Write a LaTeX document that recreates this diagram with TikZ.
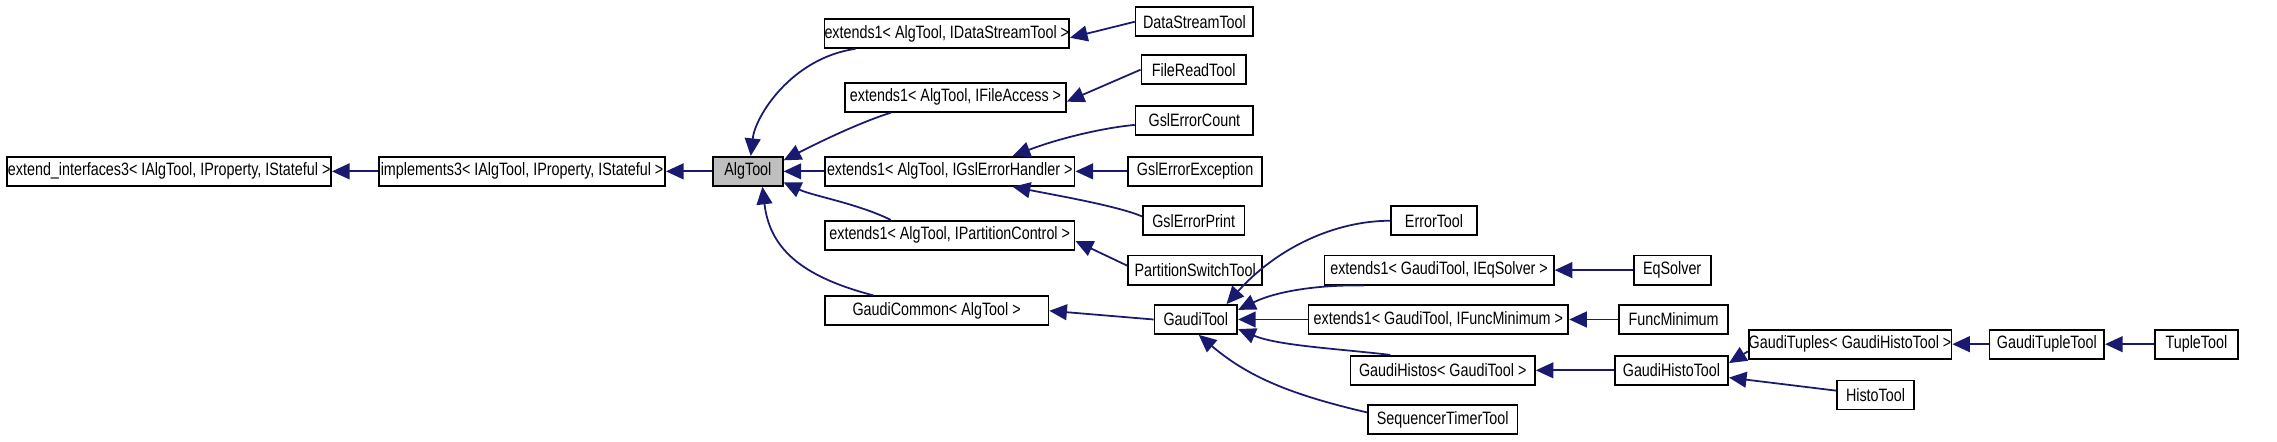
\documentclass[tikz,border=0pt]{standalone}
\usepackage{fontspec}
\setmainfont{Liberation Sans}[FakeStretch=0.8]
\usetikzlibrary{arrows.meta,calc}
\definecolor{navy}{HTML}{191970}
\begin{document}
\begin{tikzpicture}[x=0.01452cm,y=-0.01452cm,
  box/.style={draw,line width=0.5pt,inner sep=0pt,minimum height=20*0.01452cm,font=\fontsize{5.1pt}{6pt}\selectfont,text=black},
  arr/.style={{Triangle[length=5pt,width=4.5pt]}-,draw=navy,line width=0.5pt}]
\useasboundingbox (0,0) rectangle (1568,304);
\newcommand\bx[5]{\node[box,minimum width={(#3-#2)*0.01452cm}] (#1) at ({(#2+#3)/2},{#4+10}) {#5};}
\bx{ei}{5}{228}{108}{extend\_interfaces3< IAlgTool, IProperty, IStateful >}
\bx{im}{261}{458}{108}{implements3< IAlgTool, IProperty, IStateful >}
\node[box,fill=black!25,minimum width={48*0.01452cm}] (alg) at (515,118) {AlgTool};
\bx{eds}{568}{736}{13}{extends1< AlgTool, IDataStreamTool >}
\bx{dst}{782}{863}{5}{DataStreamTool}
\bx{efa}{582}{734}{57}{extends1< AlgTool, IFileAccess >}
\bx{frt}{786}{858}{38}{FileReadTool}
\bx{egs}{568}{740}{108}{extends1< AlgTool, IGslErrorHandler >}
\bx{gec}{782}{863}{73}{GslErrorCount}
\bx{gee}{777}{869}{108}{GslErrorException}
\bx{gep}{787}{857}{142}{GslErrorPrint}
\bx{epc}{568}{740}{152}{extends1< AlgTool, IPartitionControl >}
\bx{pst}{777}{869}{176}{PartitionSwitchTool}
\bx{gc}{568}{722}{204}{GaudiCommon< AlgTool >}
\bx{gt}{795}{852}{210}{GaudiTool}
\bx{et}{958}{1017}{142}{ErrorTool}
\bx{eeq}{912}{1070}{176}{extends1< GaudiTool, IEqSolver >}
\bx{eqs}{1125}{1178}{176}{EqSolver}
\bx{efm}{901}{1080}{210}{extends1< GaudiTool, IFuncMinimum >}
\bx{fm}{1115}{1190}{210}{FuncMinimum}
\bx{gh}{930}{1057}{245}{GaudiHistos< GaudiTool >}
\bx{ght}{1112}{1190}{245}{GaudiHistoTool}
\bx{gtu}{1218}{1330}{227}{GaudiTuples< GaudiHistoTool >}
\bx{gtt}{1370}{1449}{227}{GaudiTupleTool}
\bx{tt}{1484}{1541}{227}{TupleTool}
\bx{ht}{1265}{1318}{262}{HistoTool}
\bx{stt}{942}{1045}{279}{SequencerTimerTool}
% edges
\draw[arr] (ei.east) -- (im.west);
\draw[arr] (im.east) -- (alg.west);
\draw[arr] ($(alg.north)+(2,0)$) .. controls (520,80) and (545,40) .. ($(eds.south west)+(22,0)$);
\draw[arr] ($(alg.north east)+(0,3)$) .. controls (560,100) and (590,85) .. ($(efa.south west)+(32,0)$);
\draw[arr] (alg.east) -- (egs.west);
\draw[arr] ($(alg.south east)+(0,-3)$) .. controls (560,135) and (590,140) .. ($(epc.north west)+(46,0)$);
\draw[arr] ($(alg.south)+(10,0)$) .. controls (530,170) and (550,190) .. ($(gc.north west)+(34,0)$);
\draw[arr] ($(eds.east)+(0,3)$) -- (dst.west);
\draw[arr] ($(efa.east)+(0,3)$) -- (frt.west);
\draw[arr] ($(egs.north west)+(130,0)$) .. controls (730,95) and (760,88) .. ($(gec.west)+(0,3)$);
\draw[arr] (egs.east) -- (gee.west);
\draw[arr] ($(egs.south west)+(130,0)$) .. controls (730,135) and (770,142) .. ($(gep.west)+(0,-3)$);
\draw[arr] ($(epc.east)+(0,4)$) -- ($(pst.west)+(0,-3)$);
\draw[arr] (gc.east) -- (gt.west);
\draw[arr] ($(gt.north east)+(-8,0)$) .. controls (880,170) and (920,152) .. (et.west);
\draw[arr] ($(gt.north east)+(0,4)$) .. controls (880,200) and (910,196) .. ($(eeq.south west)+(28,0)$);
\draw[arr] (gt.east) -- (efm.west);
\draw[arr] ($(gt.south east)+(0,-4)$) .. controls (880,238) and (920,240) .. ($(gh.north west)+(28,0)$);
\draw[arr] ($(gt.south)+(2,0)$) .. controls (860,260) and (890,272) .. ($(stt.west)+(0,-5)$);
\draw[arr] (eeq.east) -- (eqs.west);
\draw[arr] (efm.east) -- (fm.west);
\draw[arr] (gh.east) -- (ght.west);
\draw[arr] ($(ght.east)+(0,-5)$) -- ($(gtu.west)+(0,5)$);
\draw[arr] ($(ght.east)+(0,5)$) -- ($(ht.west)+(0,-3)$);
\draw[arr] (gtu.east) -- (gtt.west);
\draw[arr] (gtt.east) -- (tt.west);
\end{tikzpicture}
\end{document}
